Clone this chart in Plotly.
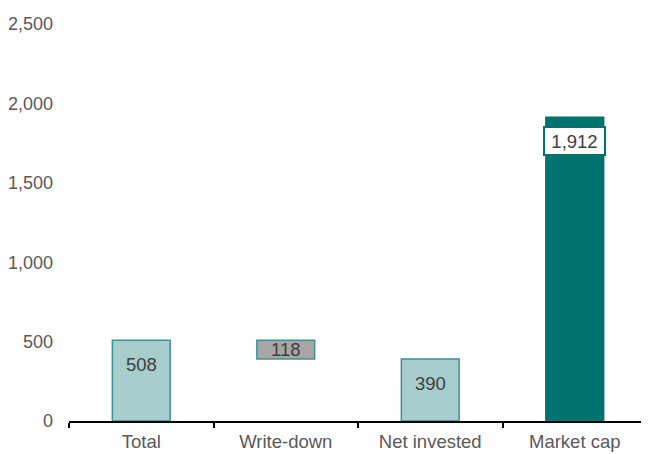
import plotly.graph_objects as go

categories = ["Total", "Write-down", "Net invested", "Market cap"]
values = [508, 118, 390, 1912]
bases = [0, 508 - 118, 0, 0]
fills = ["#a7cdcc", "#a6a6a6", "#a7cdcc", "#00736f"]
lines = ["#3a9592", "#3a9592", "#3a9592", "#00736f"]
y_ticks = [0, 500, 1000, 1500, 2000, 2500]

FS = 18.5

fig = go.Figure()
fig.add_trace(go.Bar(
    x=categories, y=values, base=bases, width=0.4,
    marker=dict(color=fills, line=dict(color=lines, width=1.5)),
    hoverinfo="skip",
))

for i, (c, v, b) in enumerate(zip(categories, values, bases)):
    if c == "Write-down":
        fig.add_annotation(x=c, y=b + v / 2, text=f"{v:,}", showarrow=False,
                           font=dict(size=FS, color="#404040"))
    elif c == "Market cap":
        fig.add_annotation(x=c, y=b + v, yshift=-24, text=f"{v:,}", showarrow=False,
                           font=dict(size=FS, color="#404040"), bgcolor="white",
                           bordercolor="#00736f", borderwidth=2, borderpad=2,
                           width=55, height=22)
    else:
        fig.add_annotation(x=c, y=b + v, yshift=-24, text=f"{v:,}", showarrow=False,
                           font=dict(size=FS, color="#404040"))

# page body has an 8px default margin, so the figure is sized to fit the 649x454 window
fig.update_layout(
    width=641, height=446,
    margin=dict(l=61, r=2, t=16, b=33, autoexpand=False),
    paper_bgcolor="white", plot_bgcolor="white",
    font=dict(family="Liberation Sans, Arial, sans-serif", size=FS, color="#595959"),
    showlegend=False,
    xaxis=dict(type="category", showline=True, linecolor="black", linewidth=2,
               ticks="outside", tickson="boundaries", ticklen=5, tickwidth=2,
               tickcolor="black", showgrid=False, zeroline=False, automargin=False,
               ticklabelstandoff=3, tickfont=dict(size=FS, color="#595959")),
    yaxis=dict(range=[0, 2500], tickvals=y_ticks, tickformat=",", showgrid=False,
               zeroline=False, showline=False, ticks="", ticklabelstandoff=15,
               automargin=False, tickfont=dict(size=18, color="#595959")),
)
fig.write_html("out.html")
